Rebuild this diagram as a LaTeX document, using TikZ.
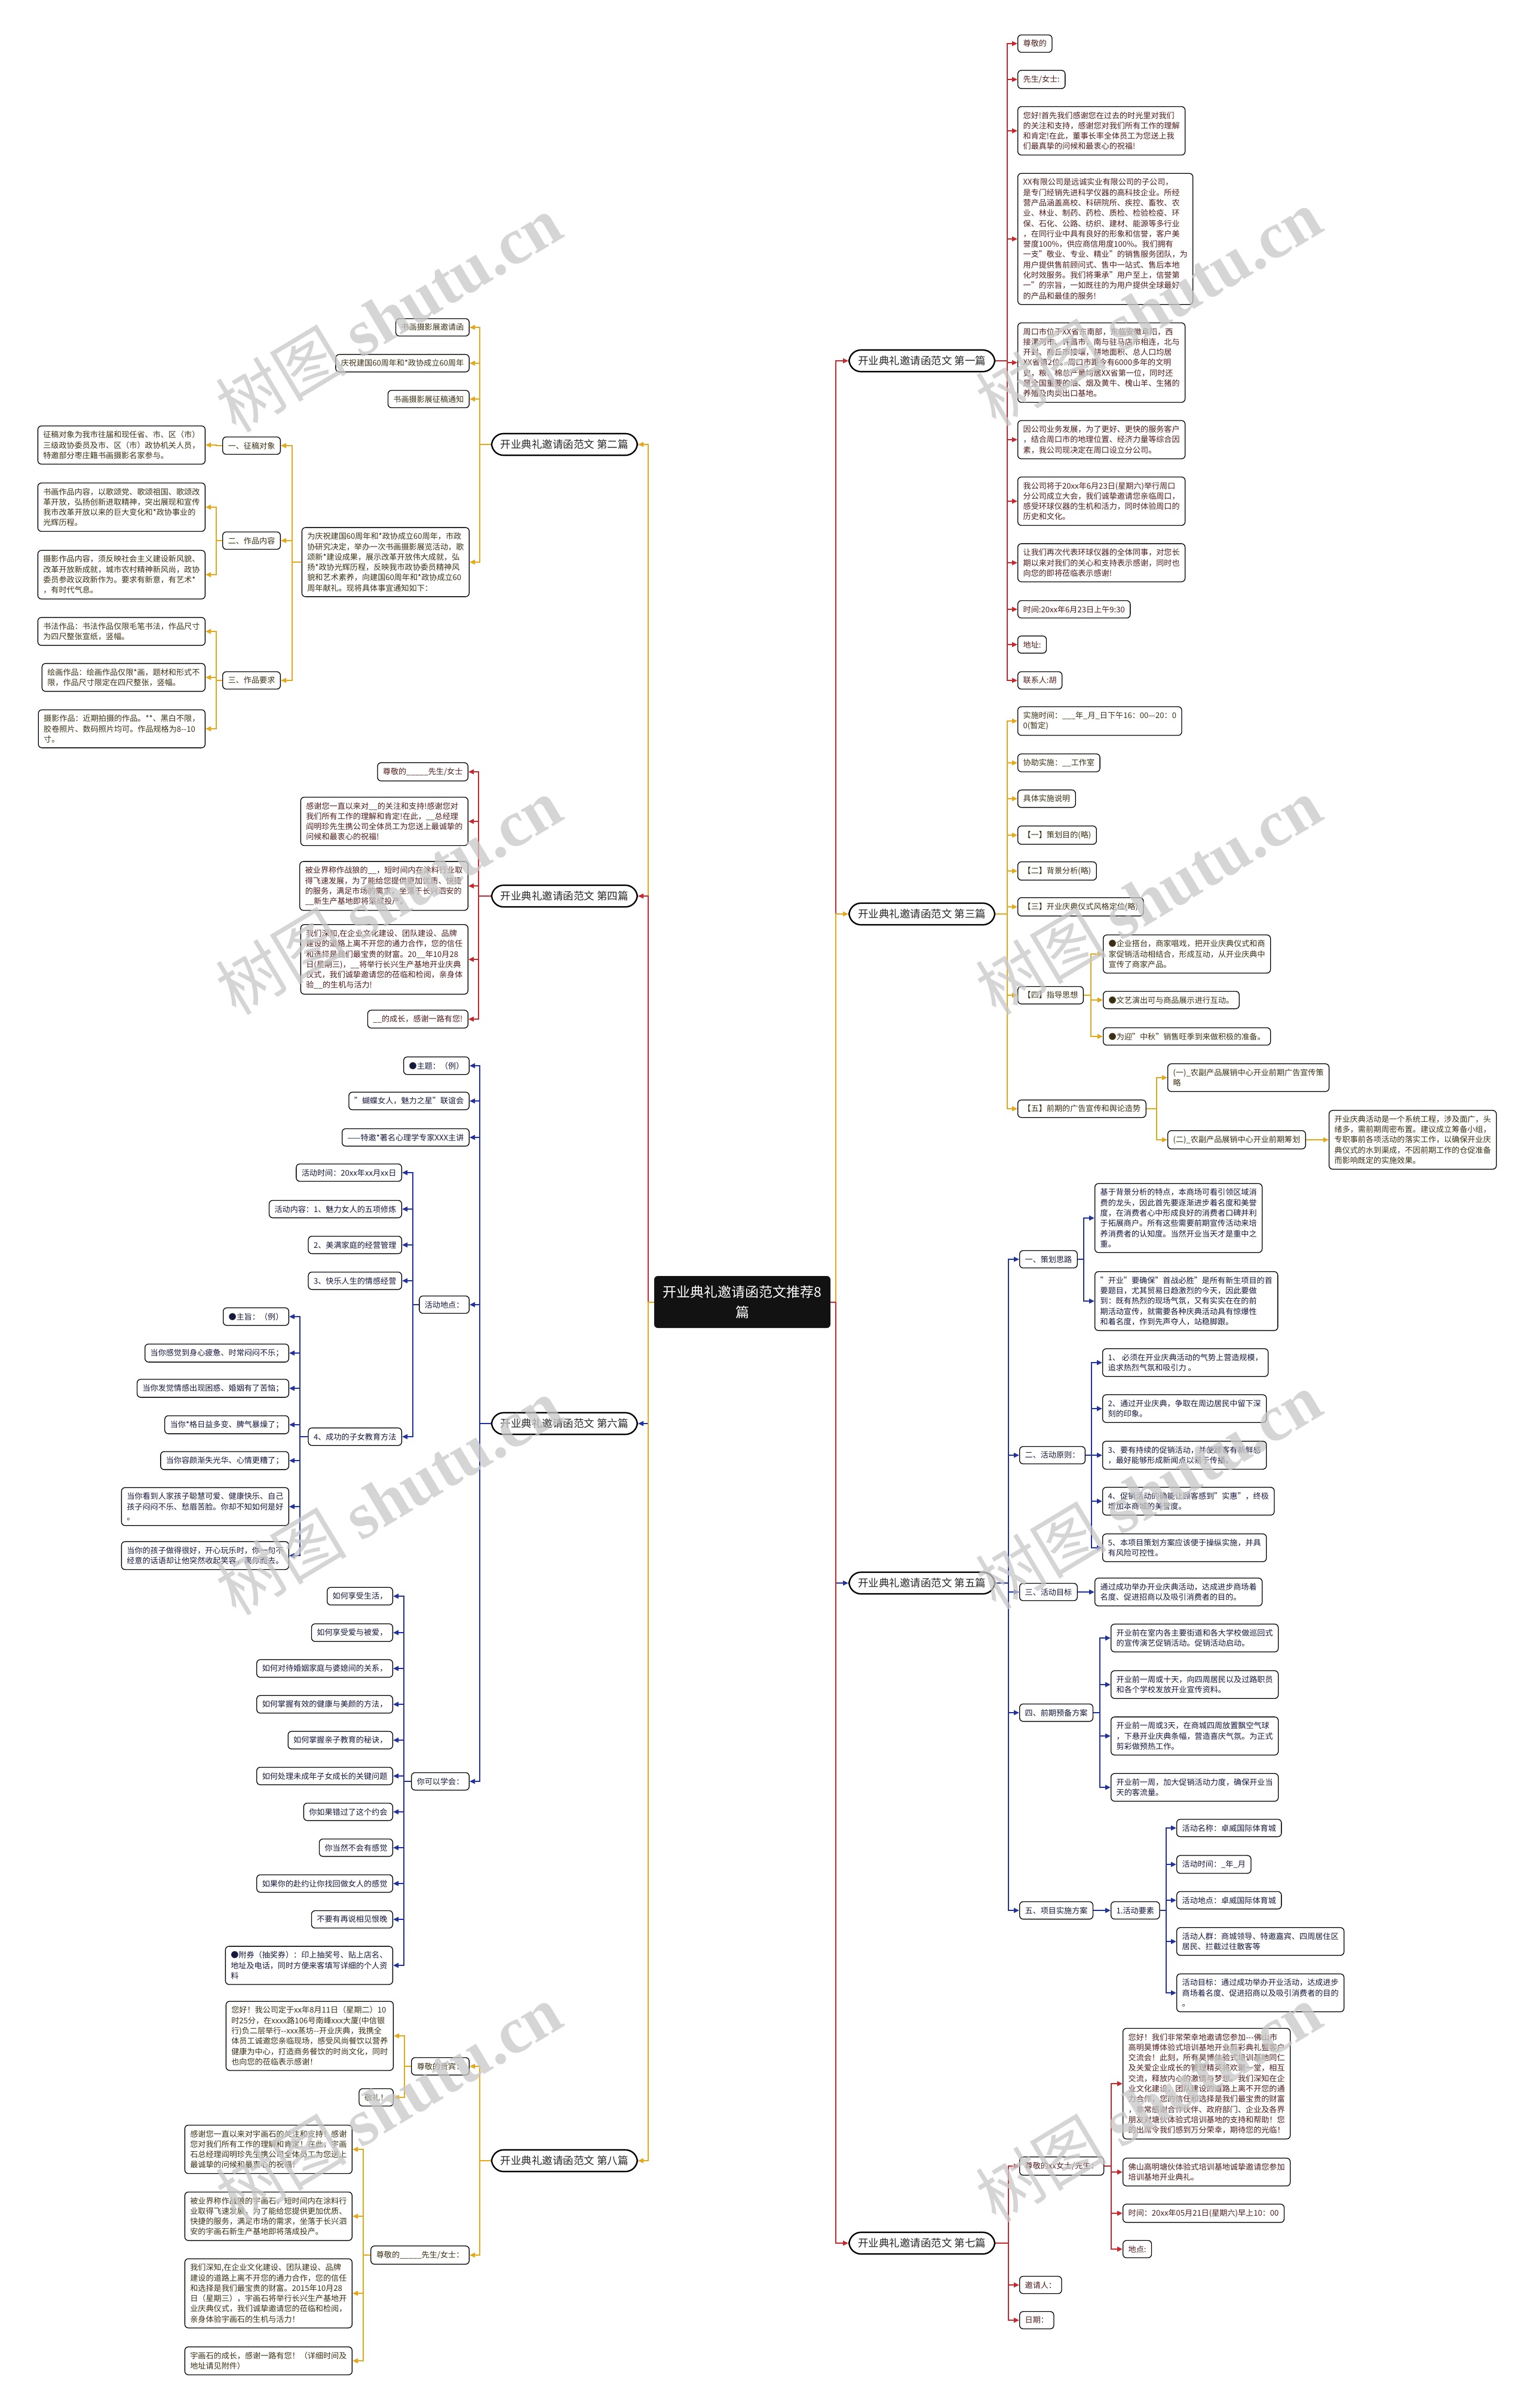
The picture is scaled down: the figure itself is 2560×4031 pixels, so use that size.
\documentclass[tikz,border=0pt]{standalone}
\usepackage{fontspec}
\setmainfont{Noto Sans CJK SC}
\newfontfamily\wmlat{Liberation Serif}
\usetikzlibrary{arrows.meta}
\definecolor{cred}{RGB}{200,40,45}
\definecolor{cyel}{RGB}{229,168,26}
\definecolor{cblu}{RGB}{32,50,160}
\definecolor{tred}{RGB}{80,28,28}
\definecolor{tyel}{RGB}{60,48,20}
\definecolor{tblu}{RGB}{22,24,62}
\newcommand\bxf{\fontsize{13.1}{17.3}\selectfont}
\newcommand\conR[4]{\draw[#1] (#2.east) -- (#2.east -| #3) |- (#4.west);}
\newcommand\conL[4]{\draw[#1] (#2.west) -- (#2.west -| #3) |- (#4.east);}
\begin{document}
\begin{tikzpicture}[x=1pt,y=-1pt,
 nbox/.style={draw=black,line width=1.3pt,rounded corners=6pt,fill=white,align=left,inner xsep=9pt,inner ysep=8.5pt,font=\bxf},
 bred/.style={nbox,text=tred},
 byel/.style={nbox,text=tyel},
 bblu/.style={nbox,text=tblu},
 lvl/.style={draw=black,line width=2.4pt,rounded corners=20pt,fill=white,inner xsep=15pt,inner ysep=10pt,font=\fontsize{17.5}{21}\selectfont,text=black!85},
 ared/.style={draw=cred,line width=2pt,-{Triangle[length=9pt,width=8pt]}},
 ayel/.style={draw=cyel,line width=2pt,-{Triangle[length=9pt,width=8pt]}},
 ablu/.style={draw=cblu,line width=2pt,-{Triangle[length=9pt,width=8pt]}},
 wm/.style={rotate=31,text=black!22,opacity=0.75,font=\fontsize{110}{110}\selectfont}
]
\useasboundingbox[fill=white] (0,0) rectangle (2560,4031);

% ---------- centre ----------
\node[fill=black!93,rounded corners=6pt,text=white,font=\fontsize{23}{34}\selectfont,align=center,minimum width=295,minimum height=87,inner sep=4pt] (c) at (1242.5,2179.5) {开业典礼邀请函范文推荐8\\篇};
\coordinate (TR) at (1399,0);
\coordinate (TL) at (1085,0);

% ---------- level 1 ----------
\node[lvl,anchor=west] (r1) at (1420,604) {开业典礼邀请函范文 第一篇};
\node[lvl,anchor=west] (r3) at (1420,1530) {开业典礼邀请函范文 第三篇};
\node[lvl,anchor=west] (r5) at (1420,2650) {开业典礼邀请函范文 第五篇};
\node[lvl,anchor=west] (r7) at (1420,3755) {开业典礼邀请函范文 第七篇};
\node[lvl,anchor=east] (l2) at (1068,744) {开业典礼邀请函范文 第二篇};
\node[lvl,anchor=east] (l4) at (1068,1500) {开业典礼邀请函范文 第四篇};
\node[lvl,anchor=east] (l6) at (1068,2383) {开业典礼邀请函范文 第六篇};
\node[lvl,anchor=east] (l8) at (1068,3617) {开业典礼邀请函范文 第八篇};

\conR{ared}{c}{TR}{r1}
\conR{ayel}{c}{TR}{r3}
\conR{ablu}{c}{TR}{r5}
\conR{ared}{c}{TR}{r7}
\conL{ayel}{c}{TL}{l2}
\conL{ared}{c}{TL}{l4}
\conL{ablu}{c}{TL}{l6}
\conL{ayel}{c}{TL}{l8}

% ---------- 第一篇 ----------
\coordinate (L1) at (1686,0);
\node[bred,anchor=west] (r1a) at (1703,73) {尊敬的};
\node[bred,anchor=west] (r1b) at (1703,133) {先生/女士:};
\node[bred,anchor=west] (r1c) at (1703,219) {您好!首先我们感谢您在过去的时光里对我们\\的关注和支持，感谢您对我们所有工作的理解\\和肯定!在此，董事长率全体员工为您送上我\\们最真挚的问候和最衷心的祝福!};
\node[bred,anchor=west] (r1d) at (1703,400) {XX有限公司是远诚实业有限公司的子公司，\\是专门经销先进科学仪器的高科技企业。所经\\营产品涵盖高校、科研院所、疾控、畜牧、农\\业、林业、制药、药检、质检、检验检疫、环\\保、石化、公路、纺织、建材、能源等多行业\\，在同行业中具有良好的形象和信誉，客户美\\誉度100\%，供应商信用度100\%。我们拥有\\一支"敬业、专业、精业"的销售服务团队，为\\用户提供售前顾问式、售中一站式、售后本地\\化时效服务。我们将秉承"用户至上，信誉第\\一"的宗旨，一如既往的为用户提供全球最好\\的产品和最佳的服务!};
\node[bred,anchor=west] (r1e) at (1703,607) {周口市位于XX省东南部，东临安徽阜阳，西\\接漯河市、许昌市，南与驻马店市相连，北与\\开封、商丘市接壤，耕地面积、总人口均居\\XX省第2位。周口市距今有6000多年的文明\\史，粮、棉总产量均居XX省第一位，同时还\\是全国重要的油、烟及黄牛、槐山羊、生猪的\\养殖及肉类出口基地。};
\node[bred,anchor=west] (r1f) at (1703,736) {因公司业务发展，为了更好、更快的服务客户\\，结合周口市的地理位置、经济力量等综合因\\素，我公司现决定在周口设立分公司。};
\node[bred,anchor=west] (r1g) at (1703,839) {我公司将于20xx年6月23日(星期六)举行周口\\分公司成立大会，我们诚挚邀请您亲临周口，\\感受环球仪器的生机和活力，同时体验周口的\\历史和文化。};
\node[bred,anchor=west] (r1h) at (1703,942) {让我们再次代表环球仪器的全体同事，对您长\\期以来对我们的关心和支持表示感谢，同时也\\向您的即将莅临表示感谢!};
\node[bred,anchor=west] (r1i) at (1703,1020) {时间:20xx年6月23日上午9:30};
\node[bred,anchor=west] (r1j) at (1703,1079) {地址:};
\node[bred,anchor=west] (r1k) at (1703,1139) {联系人:胡};
\foreach \n in {r1a,r1b,r1c,r1d,r1e,r1f,r1g,r1h,r1i,r1j,r1k} {\conR{ared}{r1}{L1}{\n}}

% ---------- 第三篇 ----------
\coordinate (L3) at (1686,0);
\node[byel,anchor=west] (r3a) at (1703,1207) {实施时间：\_\_\_年\_月\_日下午16：00—20：0\\0(暂定)};
\node[byel,anchor=west] (r3b) at (1703,1277) {协助实施：\_\_工作室};
\node[byel,anchor=west] (r3c) at (1703,1337) {具体实施说明};
\node[byel,anchor=west] (r3d) at (1703,1398) {【一】策划目的(略)};
\node[byel,anchor=west] (r3e) at (1703,1458) {【二】背景分析(略)};
\node[byel,anchor=west] (r3f) at (1703,1518) {【三】开业庆典仪式风格定位(略)};
\node[byel,anchor=west] (r3g) at (1703,1666) {【四】指导思想};
\node[byel,anchor=west] (r3h) at (1703,1856) {【五】前期的广告宣传和舆论造势};
\foreach \n in {r3a,r3b,r3c,r3d,r3e,r3f,r3g,r3h} {\conR{ayel}{r3}{L3}{\n}}
\coordinate (L3g) at (1826,0);
\node[byel,anchor=west] (r3g1) at (1846,1597) {●企业搭台，商家唱戏，把开业庆典仪式和商\\家促销活动相结合，形成互动，从开业庆典中\\宣传了商家产品。};
\node[byel,anchor=west] (r3g2) at (1846,1674) {●文艺演出可与商品展示进行互动。};
\node[byel,anchor=west] (r3g3) at (1846,1735) {●为迎"中秋"销售旺季到来做积极的准备。};
\foreach \n in {r3g1,r3g2,r3g3} {\conR{ayel}{r3g}{L3g}{\n}}
\coordinate (L3h) at (1936,0);
\node[byel,anchor=west] (r3h1) at (1954,1804) {(一)\_农副产品展销中心开业前期广告宣传策\\略};
\node[byel,anchor=west] (r3h2) at (1954,1908) {(二)\_农副产品展销中心开业前期筹划};
\foreach \n in {r3h1,r3h2} {\conR{ayel}{r3h}{L3h}{\n}}
\node[byel,anchor=west] (r3h2a) at (2224,1908) {开业庆典活动是一个系统工程，涉及面广，头\\绪多，需前期周密布置。建议成立筹备小组，\\专职事前各项活动的落实工作，以确保开业庆\\典仪式的水到渠成，不因前期工作的仓促准备\\而影响既定的实施效果。};
\draw[ayel] (r3h2.east) -- (r3h2a.west);

% ---------- 第五篇 ----------
\coordinate (L5) at (1688,0);
\node[bblu,anchor=west] (r5a) at (1706,2108) {一、策划思路};
\node[bblu,anchor=west] (r5b) at (1706,2436) {二、活动原则：};
\node[bblu,anchor=west] (r5c) at (1706,2665) {三、活动目标};
\node[bblu,anchor=west] (r5d) at (1706,2867) {四、前期预备方案};
\node[bblu,anchor=west] (r5e) at (1706,3198) {五、项目实施方案};
\foreach \n in {r5a,r5b,r5c,r5d,r5e} {\conR{ablu}{r5}{L5}{\n}}
\coordinate (L5a) at (1814,0);
\node[bblu,anchor=west] (r5a1) at (1832,2039) {基于背景分析的特点，本商场可看引领区域消\\费的龙头，因此首先要逐渐进步着名度和美誉\\度，在消费者心中形成良好的消费者口碑并利\\于拓展商户。所有这些需要前期宣传活动来培\\养消费者的认知度。当然开业当天才是重中之\\重。};
\node[bblu,anchor=west] (r5a2) at (1832,2178) {"开业"要确保"首战必胜"是所有新生项目的首\\要题目，尤其贸易日趋激烈的今天，因此要做\\到：既有热烈的现场气氛，又有实实在在的前\\期活动宣传，就需要各种庆典活动具有惊爆性\\和着名度，作到先声夺人，站稳脚跟。};
\foreach \n in {r5a1,r5a2} {\conR{ablu}{r5a}{L5a}{\n}}
\coordinate (L5b) at (1827,0);
\node[bblu,anchor=west] (r5b1) at (1845,2281) {1、 必须在开业庆典活动的气势上营造规模，\\追求热烈气氛和吸引力 。};
\node[bblu,anchor=west] (r5b2) at (1845,2358) {2、通过开业庆典，争取在周边居民中留下深\\刻的印象。};
\node[bblu,anchor=west] (r5b3) at (1845,2436) {3、要有持续的促销活动，并使顾客有新鲜感\\，最好能够形成新闻点以易于传播。};
\node[bblu,anchor=west] (r5b4) at (1845,2513) {4、促销活动的确能让顾客感到"实惠"，终极\\增加本商城的美誉度。};
\node[bblu,anchor=west] (r5b5) at (1845,2591) {5、本项目策划方案应该便于操纵实施，并具\\有风险可控性。};
\foreach \n in {r5b1,r5b2,r5b3,r5b4,r5b5} {\conR{ablu}{r5b}{L5b}{\n}}
\node[bblu,anchor=west] (r5c1) at (1832,2665) {通过成功举办开业庆典活动，达成进步商场着\\名度、促进招商以及吸引消费者的目的。};
\draw[ablu] (r5c.east) -- (r5c1.west);
\coordinate (L5d) at (1841,0);
\node[bblu,anchor=west] (r5d1) at (1859,2742) {开业前在室内各主要街道和各大学校做巡回式\\的宣传演艺促销活动。促销活动启动。};
\node[bblu,anchor=west] (r5d2) at (1859,2820) {开业前一周或十天，向四周居民以及过路职员\\和各个学校发放开业宣传资料。};
\node[bblu,anchor=west] (r5d3) at (1859,2906) {开业前一周或3天，在商城四周放置飘空气球\\，下悬开业庆典条幅，营造喜庆气氛。为正式\\剪彩做预热工作。};
\node[bblu,anchor=west] (r5d4) at (1859,2992) {开业前一周，加大促销活动力度，确保开业当\\天的客流量。};
\foreach \n in {r5d1,r5d2,r5d3,r5d4} {\conR{ablu}{r5d}{L5d}{\n}}
\node[bblu,anchor=west] (r5e1) at (1859,3198) {1.活动要素};
\draw[ablu] (r5e.east) -- (r5e1.west);
\coordinate (L5e) at (1952,0);
\node[bblu,anchor=west] (r5e1a) at (1969,3060) {活动名称：卓威国际体育城};
\node[bblu,anchor=west] (r5e1b) at (1969,3121) {活动时间：\_年\_月};
\node[bblu,anchor=west] (r5e1c) at (1969,3181) {活动地点：卓威国际体育城};
\node[bblu,anchor=west] (r5e1d) at (1969,3250) {活动人群：商城领导、特邀嘉宾、四周居住区\\居民、拦截过往散客等};
\node[bblu,anchor=west] (r5e1e) at (1969,3336) {活动目标：通过成功举办开业活动，达成进步\\商场着名度、促进招商以及吸引消费者的目的\\。};
\foreach \n in {r5e1a,r5e1b,r5e1c,r5e1d,r5e1e} {\conR{ablu}{r5e1}{L5e}{\n}}

% ---------- 第七篇 ----------
\coordinate (L7) at (1688,0);
\node[bred,anchor=west] (r7a) at (1706,3626) {尊敬的xx女士/先生：};
\node[bred,anchor=west] (r7b) at (1706,3825) {邀请人：};
\node[bred,anchor=west] (r7c) at (1706,3884) {日期：};
\foreach \n in {r7a,r7b,r7c} {\conR{ared}{r7}{L7}{\n}}
\coordinate (L7a) at (1860,0);
\node[bred,anchor=west] (r7a1) at (1879,3488) {您好！我们非常荣幸地邀请您参加-{}-{}-佛山市\\高明昊博体验式培训基地开业剪彩典礼暨客户\\交流会！此刻，所有昊博体验式培训基地同仁\\及关爱企业成长的管理精英将欢聚一堂，相互\\交流，释放内心的激情与梦想。我们深知在企\\业文化建设、团队建设的道路上离不开您的通\\力合作，您的信任和选择是我们最宝贵的财富\\，非常感谢合作伙伴、政府部门、企业及各界\\朋友对塘伙体验式培训基地的支持和帮助！您\\的出席令我们感到万分荣幸，期待您的光临！};
\node[bred,anchor=west] (r7a2) at (1879,3636) {佛山高明塘伙体验式培训基地诚挚邀请您参加\\培训基地开业典礼。};
\node[bred,anchor=west] (r7a3) at (1879,3705) {时间：20xx年05月21日(星期六)早上10：00};
\node[bred,anchor=west] (r7a4) at (1879,3765) {地点:};
\foreach \n in {r7a1,r7a2,r7a3,r7a4} {\conR{ared}{r7a}{L7a}{\n}}

% ---------- 第二篇 ----------
\coordinate (L2) at (803,0);
\node[byel,anchor=east] (l2a) at (786,548) {书画摄影展邀请函};
\node[byel,anchor=east] (l2b) at (786,608) {庆祝建国60周年和*政协成立60周年};
\node[byel,anchor=east] (l2c) at (786,668) {书画摄影展征稿通知};
\node[byel,anchor=east] (l2d) at (786,941) {为庆祝建国60周年和*政协成立60周年，市政\\协研究决定，举办一次书画摄影展览活动，歌\\颂新*建设成果，展示改革开放伟大成就，弘\\扬*政协光辉历程，反映我市政协委员精神风\\貌和艺术素养，向建国60周年和*政协成立60\\周年献礼。现将具体事宜通知如下：};
\foreach \n in {l2a,l2b,l2c,l2d} {\conL{ayel}{l2}{L2}{\n}}
\coordinate (L2d) at (489,0);
\node[byel,anchor=east] (l2d1) at (470,746) {一、征稿对象};
\node[byel,anchor=east] (l2d2) at (470,905) {二、作品内容};
\node[byel,anchor=east] (l2d3) at (470,1139) {三、作品要求};
\foreach \n in {l2d1,l2d2,l2d3} {\conL{ayel}{l2d}{L2d}{\n}}
\coordinate (L2x) at (362,0);
\node[byel,anchor=east] (l2d1a) at (344,745) {征稿对象为我市往届和现任省、市、区（市）\\三级政协委员及市、区（市）政协机关人员，\\特邀部分枣庄籍书画摄影名家参与。};
\conL{ayel}{l2d1}{L2x}{l2d1a}
\node[byel,anchor=east] (l2d2a) at (344,849) {书画作品内容，以歌颂党、歌颂祖国、歌颂改\\革开放，弘扬创新进取精神，突出展现和宣传\\我市改革开放以来的巨大变化和*政协事业的\\光辉历程。};
\node[byel,anchor=east] (l2d2b) at (344,962) {摄影作品内容，须反映社会主义建设新风貌、\\改革开放新成就，城市农村精神新风尚，政协\\委员参政议政新作为。要求有新意，有艺术*\\，有时代气息。};
\foreach \n in {l2d2a,l2d2b} {\conL{ayel}{l2d2}{L2x}{\n}}
\node[byel,anchor=east] (l2d3a) at (344,1057) {书法作品：书法作品仅限毛笔书法，作品尺寸\\为四尺整张宣纸，竖幅。};
\node[byel,anchor=east] (l2d3b) at (344,1134) {绘画作品：绘画作品仅限*画，题材和形式不\\限，作品尺寸限定在四尺整张，竖幅。};
\node[byel,anchor=east] (l2d3c) at (344,1220) {摄影作品：近期拍摄的作品。**、黑白不限，\\胶卷照片、数码照片均可。作品规格为8-{}-10\\寸。};
\foreach \n in {l2d3a,l2d3b,l2d3c} {\conL{ayel}{l2d3}{L2x}{\n}}

% ---------- 第四篇 ----------
\coordinate (L4) at (801,0);
\node[bred,anchor=east] (l4a) at (784,1292) {尊敬的\_\_\_\_\_先生/女士};
\node[bred,anchor=east] (l4b) at (784,1375) {感谢您一直以来对\_\_的关注和支持!感谢您对\\我们所有工作的理解和肯定!在此，\_\_总经理\\阎明珍先生携公司全体员工为您送上最诚挚的\\问候和最衷心的祝福!};
\node[bred,anchor=east] (l4c) at (784,1483) {被业界称作战狼的\_\_，短时间内在涂料行业取\\得飞速发展，为了能给您提供更加优质、快捷\\的服务，满足市场的需求，坐落于长兴泗安的\\\_\_新生产基地即将落成投产。};
\node[bred,anchor=east] (l4d) at (784,1606) {我们深知,在企业文化建设、团队建设、品牌\\建设的道路上离不开您的通力合作，您的信任\\和选择是我们最宝贵的财富。20\_\_年10月28\\日(星期三)，\_\_将举行长兴生产基地开业庆典\\仪式，我们诚挚邀请您的莅临和检阅，亲身体\\验\_\_的生机与活力!};
\node[bred,anchor=east] (l4e) at (784,1706) {\_\_的成长，感谢一路有您!};
\foreach \n in {l4a,l4b,l4c,l4d,l4e} {\conL{ared}{l4}{L4}{\n}}

% ---------- 第六篇 ----------
\coordinate (L6) at (803,0);
\node[bblu,anchor=east] (l6a) at (786,1784) {●主题：（例）};
\node[bblu,anchor=east] (l6b) at (786,1843) {"蝴蝶女人，魅力之星"联谊会};
\node[bblu,anchor=east] (l6c) at (786,1904) {——特邀*著名心理学专家XXX主讲};
\node[bblu,anchor=east] (l6d) at (786,2184) {活动地点：};
\node[bblu,anchor=east] (l6e) at (786,2982) {你可以学会：};
\foreach \n in {l6a,l6b,l6c,l6d,l6e} {\conL{ablu}{l6}{L6}{\n}}
\coordinate (L6d) at (691,0);
\node[bblu,anchor=east] (l6d1) at (673,1963) {活动时间：20xx年xx月xx日};
\node[bblu,anchor=east] (l6d2) at (673,2024) {活动内容：1、魅力女人的五项修炼};
\node[bblu,anchor=east] (l6d3) at (673,2084) {2、美满家庭的经营管理};
\node[bblu,anchor=east] (l6d4) at (673,2144) {3、快乐人生的情感经营};
\node[bblu,anchor=east] (l6d5) at (673,2405) {4、成功的子女教育方法};
\foreach \n in {l6d1,l6d2,l6d3,l6d4,l6d5} {\conL{ablu}{l6d}{L6d}{\n}}
\coordinate (L6f) at (502,0);
\node[bblu,anchor=east] (l6f1) at (484,2204) {●主旨：（例）};
\node[bblu,anchor=east] (l6f2) at (484,2265) {当你感觉到身心疲惫、时常闷闷不乐；};
\node[bblu,anchor=east] (l6f3) at (484,2324) {当你发觉情感出现困惑、婚姻有了苦恼；};
\node[bblu,anchor=east] (l6f4) at (484,2385) {当你*格日益多变、脾气暴燥了；};
\node[bblu,anchor=east] (l6f5) at (484,2445) {当你容颜渐失光华、心情更糟了；};
\node[bblu,anchor=east] (l6f6) at (484,2522) {当你看到人家孩子聪慧可爱、健康快乐、自己\\孩子闷闷不乐、愁眉苦脸。你却不知如何是好\\。};
\node[bblu,anchor=east] (l6f7) at (484,2604) {当你的孩子做得很好，开心玩乐时，你一句不\\经意的话语却让他突然收起笑容，离你而去。};
\foreach \n in {l6f1,l6f2,l6f3,l6f4,l6f5,l6f6,l6f7} {\conL{ablu}{l6d5}{L6f}{\n}}
\coordinate (L6e) at (676,0);
\node[bblu,anchor=east] (l6e1) at (658,2672) {如何享受生活，};
\node[bblu,anchor=east] (l6e2) at (658,2733) {如何享受爱与被爱，};
\node[bblu,anchor=east] (l6e3) at (658,2793) {如何对待婚姻家庭与婆媳间的关系，};
\node[bblu,anchor=east] (l6e4) at (658,2853) {如何掌握有效的健康与美颜的方法，};
\node[bblu,anchor=east] (l6e5) at (658,2913) {如何掌握亲子教育的秘诀，};
\node[bblu,anchor=east] (l6e6) at (658,2973) {如何处理未成年子女成长的关键问题};
\node[bblu,anchor=east] (l6e7) at (658,3033) {你如果错过了这个约会};
\node[bblu,anchor=east] (l6e8) at (658,3093) {你当然不会有感觉};
\node[bblu,anchor=east] (l6e9) at (658,3153) {如果你的赴约让你找回做女人的感觉};
\node[bblu,anchor=east] (l6e10) at (658,3213) {不要有再说相见恨晚};
\node[bblu,anchor=east] (l6e11) at (658,3290) {●附券（抽奖券）：印上抽奖号、贴上店名、\\地址及电话，同时方便来客填写详细的个人资\\料};
\foreach \n in {l6e1,l6e2,l6e3,l6e4,l6e5,l6e6,l6e7,l6e8,l6e9,l6e10,l6e11} {\conL{ablu}{l6e}{L6e}{\n}}

% ---------- 第八篇 ----------
\coordinate (L8) at (803,0);
\node[byel,anchor=east] (l8a) at (786,3459) {尊敬的贵宾：};
\node[byel,anchor=east] (l8b) at (786,3775) {尊敬的\_\_\_\_\_先生/女士：};
\foreach \n in {l8a,l8b} {\conL{ayel}{l8}{L8}{\n}}
\coordinate (L8a) at (677,0);
\node[byel,anchor=east] (l8a1) at (659,3408) {您好！我公司定于xx年8月11日（星期二）10\\时25分，在xxxx路106号南峰xxx大厦(中信银\\行)负二层举行-{}-xxx蒸坊-{}-开业庆典，我携全\\体员工诚邀您亲临现场，感受风尚餐饮以营养\\健康为中心，打造商务餐饮的时尚文化，同时\\也向您的莅临表示感谢！};
\node[byel,anchor=east] (l8a2) at (659,3511) {敬礼！};
\foreach \n in {l8a1,l8a2} {\conL{ayel}{l8a}{L8a}{\n}}
\coordinate (L8b) at (608,0);
\node[byel,anchor=east] (l8b1) at (590,3598) {感谢您一直以来对宇画石的关注和支持！感谢\\您对我们所有工作的理解和肯定！在此，宇画\\石总经理阎明珍先生携公司全体员工为您送上\\最诚挚的问候和最衷心的祝福！};
\node[byel,anchor=east] (l8b2) at (590,3710) {被业界称作战狼的宇画石，短时间内在涂料行\\业取得飞速发展，为了能给您提供更加优质、\\快捷的服务，满足市场的需求，坐落于长兴泗\\安的宇画石新生产基地即将落成投产。};
\node[byel,anchor=east] (l8b3) at (590,3839) {我们深知,在企业文化建设、团队建设、品牌\\建设的道路上离不开您的通力合作，您的信任\\和选择是我们最宝贵的财富。2015年10月28\\日（星期三），宇画石将举行长兴生产基地开\\业庆典仪式，我们诚挚邀请您的莅临和检阅，\\亲身体验宇画石的生机与活力！};
\node[byel,anchor=east] (l8b4) at (590,3952) {宇画石的成长，感谢一路有您！（详细时间及\\地址请见附件）};
\foreach \n in {l8b1,l8b2,l8b3,l8b4} {\conL{ayel}{l8b}{L8b}{\n}}

% ---------- watermarks ----------
\foreach \wx/\wy in {650/525, 1922/515, 650/1500, 1922/1500, 650/2505, 1922/2495, 650/3520, 1922/3520} {
  \node[wm] at (\wx,\wy) {树图 {\wmlat\bfseries shutu.cn}};
}
\end{tikzpicture}
\end{document}
